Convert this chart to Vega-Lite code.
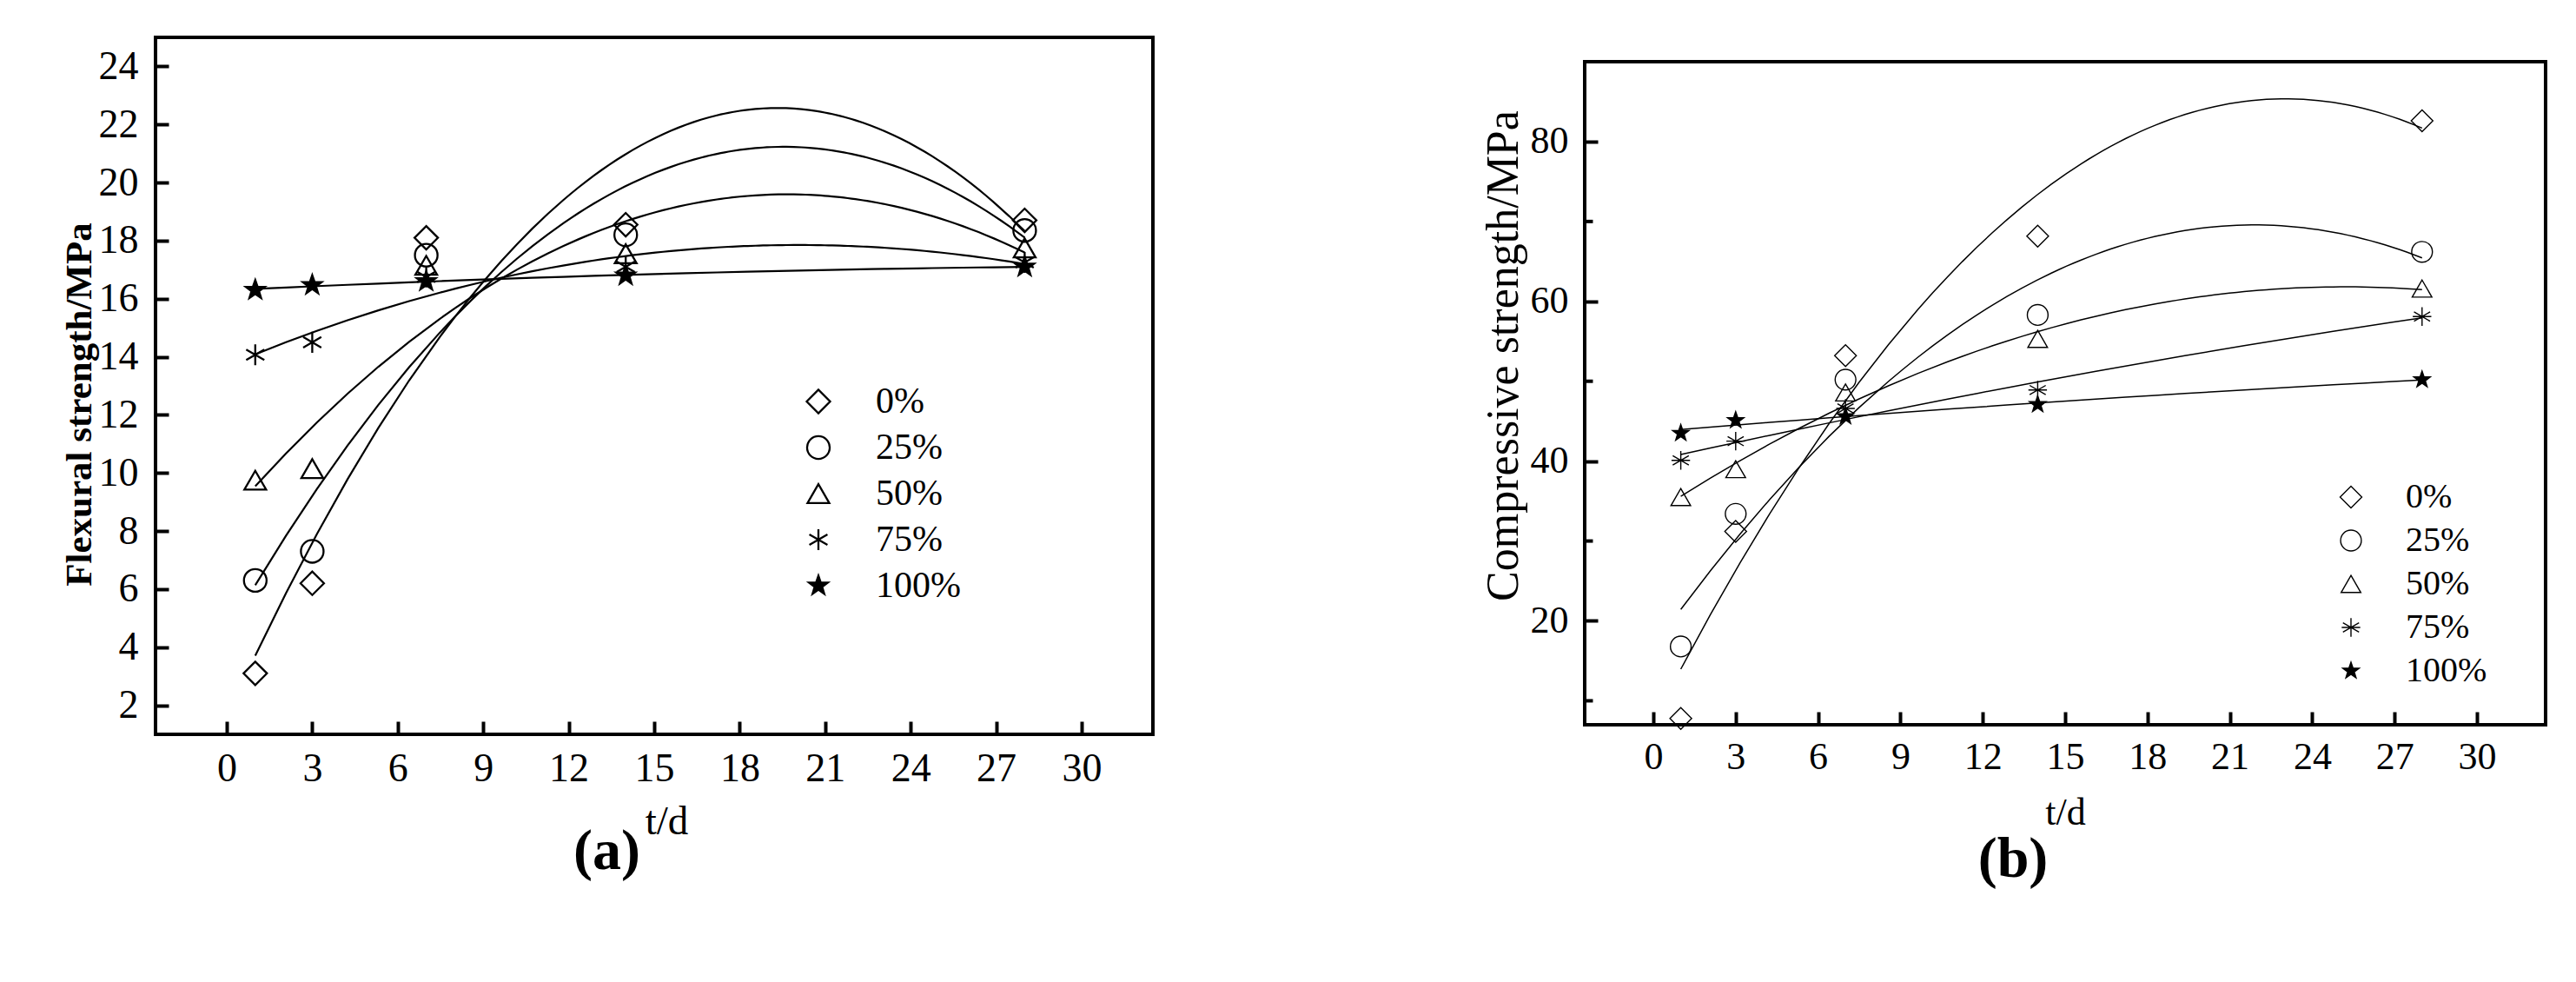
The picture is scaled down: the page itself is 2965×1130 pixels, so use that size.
{
  "$schema": "https://vega.github.io/schema/vega-lite/v6.json",
  "background": "white",
  "padding": {"left": 68, "top": 41, "right": 10, "bottom": 10},
  "datasets": {
    "flex": [
      {"day": 1, "strength": 3.1, "replacement": "0%"},
      {"day": 3, "strength": 6.2, "replacement": "0%"},
      {"day": 7, "strength": 18.1, "replacement": "0%"},
      {"day": 14, "strength": 18.55, "replacement": "0%"},
      {"day": 28, "strength": 18.7, "replacement": "0%"},
      {"day": 1, "strength": 6.3, "replacement": "25%"},
      {"day": 3, "strength": 7.3, "replacement": "25%"},
      {"day": 7, "strength": 17.5, "replacement": "25%"},
      {"day": 14, "strength": 18.2, "replacement": "25%"},
      {"day": 28, "strength": 18.35, "replacement": "25%"},
      {"day": 1, "strength": 9.75, "replacement": "50%"},
      {"day": 3, "strength": 10.15, "replacement": "50%"},
      {"day": 7, "strength": 17.15, "replacement": "50%"},
      {"day": 14, "strength": 17.55, "replacement": "50%"},
      {"day": 28, "strength": 17.75, "replacement": "50%"},
      {"day": 1, "strength": 14.07, "replacement": "75%"},
      {"day": 3, "strength": 14.5, "replacement": "75%"},
      {"day": 7, "strength": 16.75, "replacement": "75%"},
      {"day": 14, "strength": 17.1, "replacement": "75%"},
      {"day": 28, "strength": 17.25, "replacement": "75%"},
      {"day": 1, "strength": 16.3, "replacement": "100%"},
      {"day": 3, "strength": 16.47, "replacement": "100%"},
      {"day": 7, "strength": 16.6, "replacement": "100%"},
      {"day": 14, "strength": 16.8, "replacement": "100%"},
      {"day": 28, "strength": 17.1, "replacement": "100%"}
    ],
    "comp": [
      {"day": 1, "strength": 7.8, "replacement": "0%"},
      {"day": 3, "strength": 31.2, "replacement": "0%"},
      {"day": 7, "strength": 53.2, "replacement": "0%"},
      {"day": 14, "strength": 68.15, "replacement": "0%"},
      {"day": 28, "strength": 82.6, "replacement": "0%"},
      {"day": 1, "strength": 16.8, "replacement": "25%"},
      {"day": 3, "strength": 33.4, "replacement": "25%"},
      {"day": 7, "strength": 50.2, "replacement": "25%"},
      {"day": 14, "strength": 58.3, "replacement": "25%"},
      {"day": 28, "strength": 66.2, "replacement": "25%"},
      {"day": 1, "strength": 35.5, "replacement": "50%"},
      {"day": 3, "strength": 39.0, "replacement": "50%"},
      {"day": 7, "strength": 48.6, "replacement": "50%"},
      {"day": 14, "strength": 55.3, "replacement": "50%"},
      {"day": 28, "strength": 61.6, "replacement": "50%"},
      {"day": 1, "strength": 40.1, "replacement": "75%"},
      {"day": 3, "strength": 42.5, "replacement": "75%"},
      {"day": 7, "strength": 46.6, "replacement": "75%"},
      {"day": 14, "strength": 48.9, "replacement": "75%"},
      {"day": 28, "strength": 58.1, "replacement": "75%"},
      {"day": 1, "strength": 43.5, "replacement": "100%"},
      {"day": 3, "strength": 45.1, "replacement": "100%"},
      {"day": 7, "strength": 45.6, "replacement": "100%"},
      {"day": 14, "strength": 47.1, "replacement": "100%"},
      {"day": 28, "strength": 50.2, "replacement": "100%"}
    ],
    "minor": [{"m": 10}, {"m": 30}, {"m": 50}, {"m": 70}]
  },
  "spacing": 373,
  "resolve": {
    "scale": {"shape": "independent", "fill": "independent", "size": "independent"},
    "legend": {"shape": "independent", "fill": "independent", "size": "independent"}
  },
  "hconcat": [
    {
      "width": 1148,
      "height": 802,
      "data": {"name": "flex"},
      "title": {"text": "(a)", "orient": "bottom", "anchor": "middle", "frame": "bounds", "fontSize": 66, "fontWeight": "bold", "offset": -20},
      "layer": [
        {
          "transform": [{"regression": "strength", "on": "day", "groupby": ["replacement"], "method": "poly", "order": 2, "extent": [1, 28]}],
          "mark": {"type": "line", "color": "black", "strokeWidth": 2.2},
          "encoding": {
            "x": {"field": "day", "type": "quantitative", "scale": {"domain": [-2.5, 32.5], "nice": false, "zero": false},
              "axis": {"values": [0, 3, 6, 9, 12, 15, 18, 21, 24, 27, 30], "title": "t/d", "titleFontSize": 47, "titleX": 588, "titleY": 114, "titleBaseline": "alphabetic", "titleAlign": "center", "labelFontSize": 46, "labelPadding": 32}},
            "y": {"field": "strength", "type": "quantitative", "scale": {"domain": [1, 25], "nice": false, "zero": false},
              "axis": {"values": [2, 4, 6, 8, 10, 12, 14, 16, 18, 20, 22, 24], "title": "Flexural strength/MPa", "titleFontSize": 43, "titleFontWeight": "bold", "titleX": -75, "titleY": 422, "titleAngle": -90, "titleBaseline": "alphabetic", "titleAlign": "center", "labelFontSize": 46, "labelPadding": 35}},
            "detail": {"field": "replacement", "type": "nominal"}
          }
        },
        {
          "mark": {"type": "point", "filled": false, "stroke": "black", "strokeWidth": 2.3, "opacity": 1},
          "encoding": {
            "x": {"field": "day", "type": "quantitative"},
            "y": {"field": "strength", "type": "quantitative"},
            "shape": {"field": "replacement", "type": "nominal",
              "scale": {"domain": ["0%", "25%", "50%", "75%", "100%"], "range": ["diamond", "circle", "M0,-0.866L1,0.866L-1,0.866Z", "M0,-1L0,1M-0.866,-0.5L0.866,0.5M-0.866,0.5L0.866,-0.5", "M0,-1L0.235,-0.324L0.951,-0.309L0.38,0.124L0.588,0.809L0,0.4L-0.588,0.809L-0.38,0.124L-0.951,-0.309L-0.235,-0.324Z"]},
              "legend": {"orient": "none", "legendX": 742, "legendY": 398, "title": null, "labelFont": "Liberation Serif", "labelFontSize": 42, "labelColor": "black", "labelOffset": 45, "rowPadding": 11, "symbolStrokeWidth": 2.3, "symbolStrokeColor": "black", "padding": 0, "labelLimit": 0}},
            "fill": {"field": "replacement", "type": "nominal",
              "scale": {"domain": ["0%", "25%", "50%", "75%", "100%"], "range": ["transparent", "transparent", "transparent", "transparent", "black"]}},
            "size": {"field": "replacement", "type": "nominal",
              "scale": {"domain": ["0%", "25%", "50%", "75%", "100%"], "range": [729, 529, 625, 784, 784]}}
          }
        }
      ]
    },
    {
      "spacing": 0,
      "vconcat": [
        {
          "data": {"values": []},
          "mark": {"type": "point", "opacity": 0},
          "width": 10,
          "height": 26,
          "view": {"stroke": null}
        },
        {
          "width": 1106,
          "height": 763,
          "data": {"name": "comp"},
          "title": {"text": "(b)", "orient": "bottom", "anchor": "middle", "frame": "bounds", "fontSize": 66, "fontWeight": "bold", "offset": 0},
          "layer": [
            {
              "transform": [{"regression": "strength", "on": "day", "groupby": ["replacement"], "method": "poly", "order": 2, "extent": [1, 28]}],
              "mark": {"type": "line", "color": "black", "strokeWidth": 1.5},
              "encoding": {
                "x": {"field": "day", "type": "quantitative", "scale": {"domain": [-2.5, 32.5], "nice": false, "zero": false},
                  "axis": {"values": [0, 3, 6, 9, 12, 15, 18, 21, 24, 27, 30], "title": "t/d", "titleFontSize": 44, "labelFontSize": 44, "labelPadding": 30, "titlePadding": 20}},
                "y": {"field": "strength", "type": "quantitative", "scale": {"domain": [7, 90], "nice": false, "zero": false},
                  "axis": {"values": [20, 40, 60, 80], "title": "Compressive strength/MPa", "titleFontSize": 52, "titleX": -78, "titleY": 338, "titleAngle": -90, "titleBaseline": "alphabetic", "titleAlign": "center", "labelFontSize": 44, "labelPadding": 34}},
                "detail": {"field": "replacement", "type": "nominal"}
              }
            },
            {
              "data": {"name": "minor"},
              "mark": {"type": "rule", "color": "black", "strokeWidth": 4},
              "encoding": {
                "x": {"datum": -2.5, "type": "quantitative"},
                "x2": {"datum": -2.2},
                "y": {"field": "m", "type": "quantitative"}
              }
            },
            {
              "mark": {"type": "point", "filled": false, "stroke": "black", "strokeWidth": 1.4, "opacity": 1},
              "encoding": {
                "x": {"field": "day", "type": "quantitative"},
                "y": {"field": "strength", "type": "quantitative"},
                "shape": {"field": "replacement", "type": "nominal",
                  "scale": {"domain": ["0%", "25%", "50%", "75%", "100%"], "range": ["diamond", "circle", "M0,-0.866L1,0.866L-1,0.866Z", "M0,-1L0,1M-0.866,-0.5L0.866,0.5M-0.866,0.5L0.866,-0.5M-1,0L1,0", "M0,-1L0.235,-0.324L0.951,-0.309L0.38,0.124L0.588,0.809L0,0.4L-0.588,0.809L-0.38,0.124L-0.951,-0.309L-0.235,-0.324Z"]},
                  "legend": {"orient": "none", "legendX": 862, "legendY": 509, "title": null, "labelFont": "Liberation Serif", "labelFontSize": 40, "labelColor": "black", "labelOffset": 43, "rowPadding": 10, "symbolStrokeWidth": 1.4, "symbolStrokeColor": "black", "padding": 0, "labelLimit": 0}},
                "fill": {"field": "replacement", "type": "nominal",
                  "scale": {"domain": ["0%", "25%", "50%", "75%", "100%"], "range": ["transparent", "transparent", "transparent", "transparent", "black"]}},
                "size": {"field": "replacement", "type": "nominal",
                  "scale": {"domain": ["0%", "25%", "50%", "75%", "100%"], "range": [625, 400, 576, 484, 484]}}
              }
            }
          ]
        }
      ]
    }
  ],
  "config": {
    "font": "Liberation Serif",
    "view": {"stroke": "black", "strokeWidth": 4},
    "axis": {"domain": false, "grid": false, "labelFont": "Liberation Serif", "titleFont": "Liberation Serif", "labelColor": "black", "titleColor": "black", "tickColor": "black", "tickWidth": 4, "tickSize": -15, "labelFlush": false, "labelOverlap": false, "titleFontWeight": "normal"},
    "title": {"font": "Liberation Serif", "color": "black"}
  }
}
